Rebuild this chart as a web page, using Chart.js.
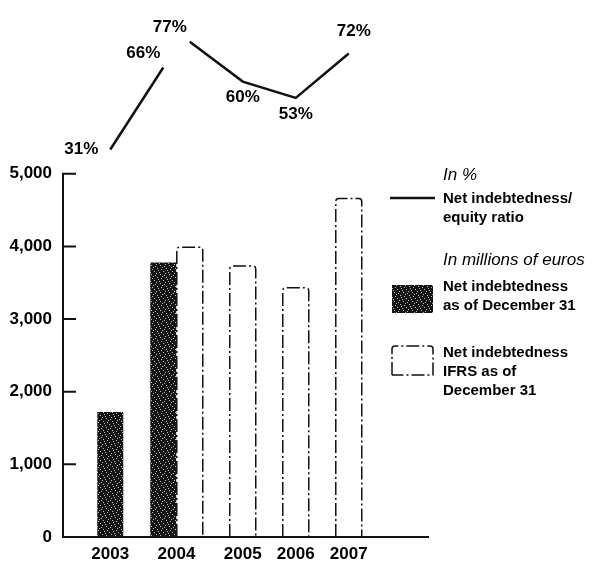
<!DOCTYPE html>
<html><head><meta charset="utf-8">
<script src="https://cdn.jsdelivr.net/npm/chart.js@4.4.1/dist/chart.umd.min.js"></script>
<style>html,body{margin:0;padding:0;background:#fff}canvas{display:block}</style>
</head><body>
<canvas id="c" width="595" height="565"></canvas>
<script>
// ---- data ----
const YEARS = [2003, 2004, 2005, 2006, 2007];
const DEBT_YEARS = [2003, 2004];
const DEBT = [1720, 3780];                 // Net indebtedness as of Dec 31 (m EUR)
const IFRS_YEARS = [2004, 2005, 2006, 2007];
const DEBT_IFRS = [3990, 3730, 3430, 4660]; // Net indebtedness IFRS (m EUR)
const RATIO_OLD = [31, 66];                 // % for DEBT_YEARS
const RATIO_IFRS = [77, 60, 53, 72];        // % for IFRS_YEARS
const Y_TICKS = [0, 1000, 2000, 3000, 4000, 5000];
const LABEL_RATIO = ['Net indebtedness/', 'equity ratio'];
const LABEL_DEBT = ['Net indebtedness', 'as of December 31'];
const LABEL_IFRS = ['Net indebtedness', 'IFRS as of', 'December 31'];
const HEAD_RATIO = 'In %';
const HEAD_EUROS = 'In millions of euros';
const RATIO_ANCHORS = ['left', 'aboveLeft', 'aboveLeft', 'below', 'below', 'above'];

// ---- style ----
const FAMILY = '"Liberation Sans", Arial, Helvetica, sans-serif';
const INK = '#111';
const GROUP_SHIFT = 0.25; // two grouped bars per year -> each bar centre is a quarter year off
const DASH = [13, 3, 2, 3];

function speckle() {
  const c = document.createElement('canvas'); c.width = 9; c.height = 9;
  const g = c.getContext('2d');
  g.fillStyle = '#141414'; g.fillRect(0, 0, 9, 9);
  g.fillStyle = 'rgba(255,255,255,0.7)';
  [[1,1],[5,0],[3,3],[7,4],[0,6],[4,7],[8,8],[6,2],[2,5]].forEach(p => g.fillRect(p[0], p[1], 1, 1));
  return g.createPattern(c, 'repeat');
}
const ctx = document.getElementById('c').getContext('2d');
const DARK = speckle();

function dashedBox(g, left, top, right, bottom, closeBottom) {
  const r = 3;
  g.beginPath();
  g.moveTo(left, bottom);
  g.lineTo(left, top + r);
  g.quadraticCurveTo(left, top, left + r, top);
  g.lineTo(right - r, top);
  g.quadraticCurveTo(right, top, right, top + r);
  g.lineTo(right, bottom);
  if (closeBottom) g.lineTo(left, bottom);
  g.stroke();
}

const dashedBars = {
  id: 'dashedBars',
  afterDatasetsDraw(chart) {
    const g = chart.ctx;
    chart.data.datasets.forEach((ds, i) => {
      if (!ds.dashed) return;
      chart.getDatasetMeta(i).data.forEach(bar => {
        const p = bar.getProps(['x', 'y', 'base', 'width'], true);
        g.save();
        g.strokeStyle = INK; g.lineWidth = 1.5; g.setLineDash(DASH);
        dashedBox(g, p.x - p.width / 2, p.y, p.x + p.width / 2, p.base, false);
        g.restore();
      });
    });
  }
};

const axes = {
  id: 'axes',
  afterDatasetsDraw(chart) {
    const g = chart.ctx, ys = chart.scales.y, a = chart.chartArea;
    const y0 = ys.getPixelForValue(Y_TICKS[0]);
    const yTop = ys.getPixelForValue(Y_TICKS[Y_TICKS.length - 1]);
    g.save();
    g.strokeStyle = INK; g.lineWidth = 2; g.lineCap = 'square';
    g.beginPath();
    g.moveTo(a.left, yTop); g.lineTo(a.left, y0); g.lineTo(a.right, y0);
    Y_TICKS.forEach(v => { const y = ys.getPixelForValue(v); g.moveTo(a.left, y); g.lineTo(a.left + 12, y); });
    g.stroke();
    // year labels centred under the bars of each year
    g.fillStyle = '#000'; g.font = 'bold 17px ' + FAMILY; g.textAlign = 'center'; g.textBaseline = 'middle';
    YEARS.forEach(yr => {
      const xs = [];
      chart.data.datasets.forEach((ds, i) => {
        if (ds.type !== 'bar') return;
        ds.data.forEach((d, j) => { if (d.x === yr) xs.push(chart.getDatasetMeta(i).data[j].x); });
      });
      const cx = xs.reduce((s, v) => s + v, 0) / xs.length;
      g.fillText(String(yr), cx, y0 + 17);
    });
    g.restore();
  }
};

const ratioLabels = {
  id: 'ratioLabels',
  afterDatasetsDraw(chart) {
    const g = chart.ctx;
    g.save();
    g.fillStyle = '#000'; g.font = 'bold 17px ' + FAMILY; g.textBaseline = 'middle';
    let k = 0;
    chart.data.datasets.forEach((ds, i) => {
      if (ds.type !== 'line') return;
      chart.getDatasetMeta(i).data.forEach((pt, j) => {
        const t = ds.data[j].y + '%';
        const an = RATIO_ANCHORS[k++];
        if (an === 'left') { g.textAlign = 'right'; g.fillText(t, pt.x - 12, pt.y); }
        else if (an === 'aboveLeft') { g.textAlign = 'center'; g.fillText(t, pt.x - 20, pt.y - 14); }
        else if (an === 'above') { g.textAlign = 'center'; g.fillText(t, pt.x + 5, pt.y - 22); }
        else { g.textAlign = 'center'; g.fillText(t, pt.x, pt.y + 16); }
      });
    });
    g.restore();
  }
};

const sideLegend = {
  id: 'sideLegend',
  afterDraw(chart) {
    const g = chart.ctx;
    const sx = chart.chartArea.right - 38, tx = sx + 53, LH = 19;
    g.save();
    g.fillStyle = '#000'; g.textAlign = 'left'; g.textBaseline = 'middle';
    g.font = 'italic 17px ' + FAMILY;
    g.fillText(HEAD_RATIO, tx, 175);
    g.fillText(HEAD_EUROS, tx, 260);
    g.font = 'bold 15px ' + FAMILY;
    LABEL_RATIO.forEach((s, i) => g.fillText(s, tx, 199 + i * LH));
    LABEL_DEBT.forEach((s, i) => g.fillText(s, tx, 287 + i * LH));
    LABEL_IFRS.forEach((s, i) => g.fillText(s, tx, 353 + i * LH));
    // samples
    g.strokeStyle = INK; g.lineWidth = 2.5;
    g.beginPath(); g.moveTo(sx, 198); g.lineTo(sx + 45, 198); g.stroke();
    g.fillStyle = DARK; g.fillRect(sx + 2, 285, 41, 28);
    g.lineWidth = 1.5; g.setLineDash(DASH);
    dashedBox(g, sx + 2, 346, sx + 43, 375, true);
    g.restore();
  }
};

new Chart(ctx, {
  type: 'bar',
  data: {
    datasets: [
      { type: 'bar', label: LABEL_DEBT.join(' '), data: DEBT_YEARS.map((x, i) => ({ x, y: DEBT[i] })),
        backgroundColor: DARK, borderWidth: 0, categoryPercentage: 1, barPercentage: 0.98,
        xAxisID: 'x', yAxisID: 'y', order: 2 },
      { type: 'bar', label: LABEL_IFRS.join(' '), dashed: true, data: IFRS_YEARS.map((x, i) => ({ x, y: DEBT_IFRS[i] })),
        backgroundColor: 'rgba(0,0,0,0)', borderWidth: 0, categoryPercentage: 1, barPercentage: 0.98,
        xAxisID: 'x', yAxisID: 'y', order: 3 },
      { type: 'line', label: LABEL_RATIO.join(' '), data: DEBT_YEARS.map((x, i) => ({ x: x - GROUP_SHIFT, y: RATIO_OLD[i] })),
        borderColor: INK, borderWidth: 2.5, pointRadius: 0, tension: 0, fill: false,
        xAxisID: 'x', yAxisID: 'y2', order: 1 },
      { type: 'line', label: LABEL_RATIO.join(' ') + ' (IFRS)', data: IFRS_YEARS.map((x, i) => ({ x: x + GROUP_SHIFT, y: RATIO_IFRS[i] })),
        borderColor: INK, borderWidth: 2.5, pointRadius: 0, tension: 0, fill: false,
        xAxisID: 'x', yAxisID: 'y2', order: 1 }
    ]
  },
  options: {
    responsive: false, animation: false, devicePixelRatio: 1,
    layout: { padding: { left: 0, top: 20, right: 167, bottom: 28 } },
    plugins: { legend: { display: false }, tooltip: { enabled: false } },
    scales: {
      x: { type: 'linear', display: false, offset: false, bounds: 'data', min: 2001.858, max: 2008.745,
           afterBuildTicks: s => { s.ticks = YEARS.map(v => ({ value: v })); } },
      y: { type: 'linear', position: 'left', bounds: 'data', min: 0, max: 7100,
           afterBuildTicks: s => { s.ticks = Y_TICKS.map(v => ({ value: v })); },
           afterFit: s => { s.width = 63; },
           grid: { display: false, drawTicks: false }, border: { display: false },
           ticks: { padding: 11, color: '#000', font: { family: FAMILY, size: 17, weight: 'bold' },
                    callback: v => v.toLocaleString('en-US') } },
      y2: { type: 'linear', display: false, bounds: 'data', min: -134.6, max: 85.8 }
    }
  },
  plugins: [dashedBars, axes, ratioLabels, sideLegend]
});
</script>
</body></html>
